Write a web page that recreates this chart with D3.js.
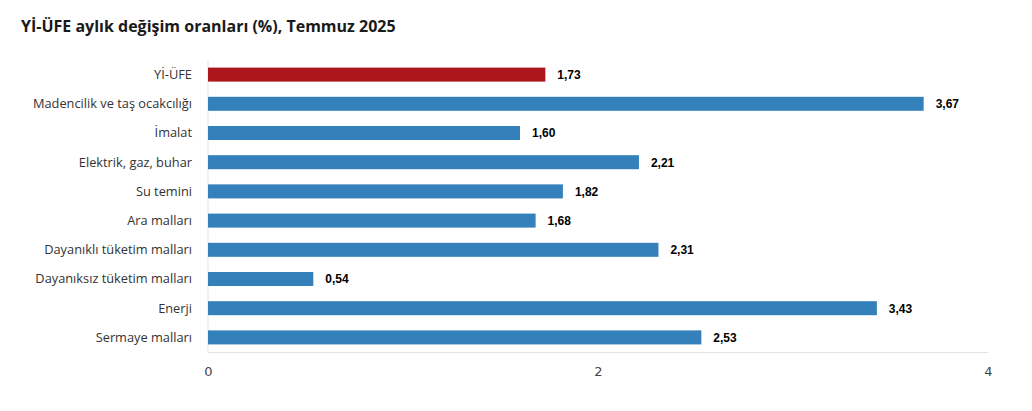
<!DOCTYPE html>
<html>
<head>
<meta charset="utf-8">
<script src="https://cdn.jsdelivr.net/npm/d3@7"></script>
<style>
  body { margin:0; background:#fff; }
  svg { display:block; }
  .title { font-family:"Open Sans", "Noto Sans", sans-serif; font-weight:700; font-size:16px; fill:#1a1a1a; }
  .cat { font-family:"Open Sans", "Noto Sans", sans-serif; font-size:12.8px; fill:#333; }
  .val { font-family:"Liberation Sans", Arial, sans-serif; font-weight:700; font-size:12px; fill:#000; }
  .tick text { font-family:"DejaVu Sans", sans-serif; font-size:13px; fill:#444; }
</style>
</head>
<body>
<div id="chart"></div>
<script>
/* data */
const CATEGORIES = ["Yİ-ÜFE","Madencilik ve taş ocakcılığı","İmalat","Elektrik, gaz, buhar","Su temini",
  "Ara malları","Dayanıklı tüketim malları","Dayanıksız tüketim malları","Enerji","Sermaye malları"];
const VALUES = [1.73, 3.67, 1.60, 2.21, 1.82, 1.68, 2.31, 0.54, 3.43, 2.53];
const X_TICKS = [0, 2, 4];

const W=1032, H=411, M={top:60,right:44,bottom:59,left:208};
const IW=W-M.left-M.right, IH=H-M.top-M.bottom;
const fmt = v => v.toFixed(2).replace(".", ",");

const svg = d3.select("#chart").append("svg").attr("width",W).attr("height",H);
svg.append("text").attr("class","title").attr("x",21).attr("y",32)
  .text("Yİ-ÜFE aylık değişim oranları (%), Temmuz 2025");

const g = svg.append("g").attr("transform",`translate(${M.left},${M.top})`);
const x = d3.scaleLinear().domain([0,4]).range([0,IW]);
const y = d3.scaleBand().domain(CATEGORIES).range([0,IH]).paddingInner(0.52).paddingOuter(0.26);

// axis lines
g.append("line").attr("x1",0).attr("x2",0).attr("y1",0).attr("y2",IH).attr("stroke","#e3e3e3");
g.append("line").attr("x1",0).attr("x2",IW).attr("y1",IH+0.5).attr("y2",IH+0.5).attr("stroke","#e3e3e3");

const xa = g.append("g").attr("transform",`translate(0,${IH})`)
  .call(d3.axisBottom(x).tickValues(X_TICKS).tickSize(0).tickPadding(15).tickFormat(d3.format("d")));
xa.select(".domain").remove();

g.selectAll("text.cat").data(CATEGORIES).enter().append("text").attr("class","cat")
  .attr("x",-16).attr("y",d=>y(d)+y.bandwidth()/2).attr("dy","0.35em")
  .attr("text-anchor","end").text(d=>d);

g.selectAll("rect.bar").data(VALUES).enter().append("rect").attr("class","bar")
  .attr("x",0).attr("y",(d,i)=>y(CATEGORIES[i]))
  .attr("width",d=>x(d)).attr("height",y.bandwidth())
  .attr("fill",(d,i)=>i===0?"#ae161e":"#3380bb");

g.selectAll("text.val").data(VALUES).enter().append("text").attr("class","val")
  .attr("x",d=>x(d)+12).attr("y",(d,i)=>y(CATEGORIES[i])+y.bandwidth()/2).attr("dy","0.36em")
  .text(fmt);
</script>
</body>
</html>
